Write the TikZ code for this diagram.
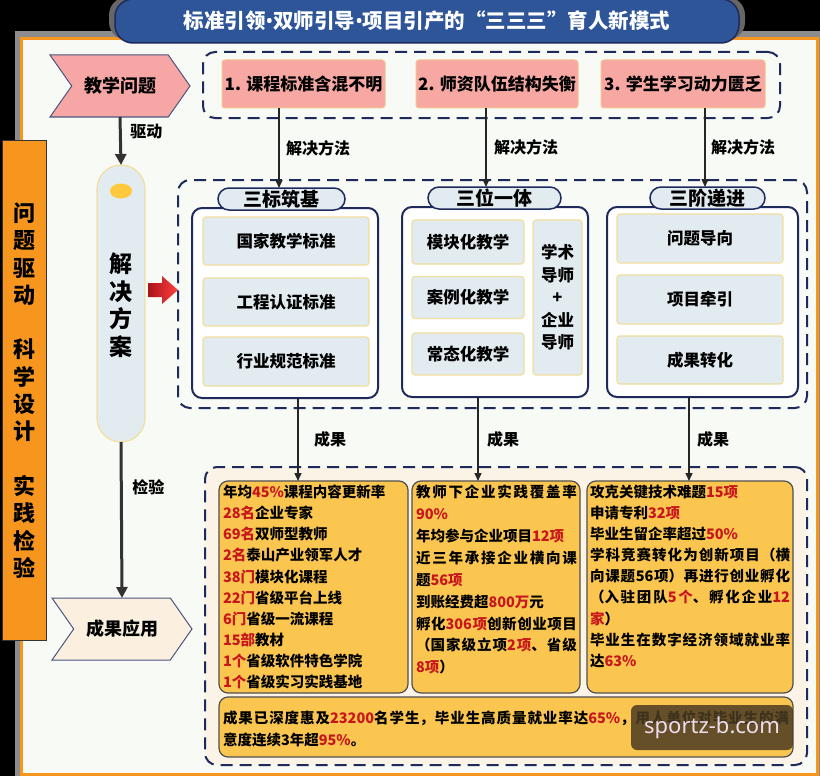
\documentclass[tikz,border=0pt]{standalone}
\usepackage{fontspec}
\setmainfont{Noto Sans CJK SC}
\newfontfamily\wmfont{Noto Sans}
\usetikzlibrary{shapes.symbols,shapes.geometric,arrows.meta,calc}
\XeTeXlinebreaklocale "zh"
\XeTeXlinebreakskip=0pt plus 3pt
\setlength{\parindent}{0pt}
\definecolor{navy}{HTML}{1F2A5C}
\definecolor{framebg}{HTML}{F8FAF6}
\definecolor{frameor}{HTML}{F7961E}
\definecolor{titleblue}{HTML}{2E5597}
\definecolor{probpink}{HTML}{F7A8A2}
\definecolor{probedge}{HTML}{F2C48C}
\definecolor{itembg}{HTML}{E2ECF0}
\definecolor{itemedge}{HTML}{F2DE9E}
\definecolor{resfill}{HTML}{FBC650}
\definecolor{resedge}{HTML}{505050}
\definecolor{numred}{HTML}{C8161D}
\definecolor{arrgray}{HTML}{333333}
\definecolor{creambg}{HTML}{FBF3E6}
\definecolor{chevcream}{HTML}{FBF0E0}
\definecolor{chevpink}{HTML}{F7A6A6}
\definecolor{dotyellow}{HTML}{FFC83D}
\definecolor{wmbrown}{HTML}{4A3B22}
\definecolor{wmtext}{HTML}{F0DDEE}
\newcommand{\myfs}[2]{\fontsize{#1}{#2}\selectfont}
\newcommand{\rd}[1]{\textcolor{numred}{#1}}
\newcommand{\tbul}{{\wmfont\bfseries •}}
\begin{document}
\begin{tikzpicture}[x=1pt,y=-1pt,
  every node/.style={inner sep=0pt, outer sep=0pt},
  probbox/.style={draw=probedge, line width=1pt, fill=probpink, rounded corners=3pt, minimum height=48pt, font=\myfs{17}{20}\bfseries},
  dashbox/.style={draw=navy, line width=2pt, dash pattern=on 12pt off 7pt, rounded corners=12pt},
  grpbox/.style={draw=navy, line width=2pt, fill=white, rounded corners=10pt},
  pillbox/.style={draw=navy, line width=1.5pt, fill=itembg, rounded corners=11pt, minimum height=22pt, font=\myfs{19}{20}\bfseries},
  itembox/.style={draw=itemedge, line width=1.2pt, fill=itembg, rounded corners=3pt, font=\myfs{16.5}{20}\bfseries},
  resbox/.style={draw=resedge, line width=1.2pt, fill=resfill, rounded corners=9pt},
  restext/.style={anchor=north west, font=\myfs{14.5}{21.1}\bfseries},
  bigarr/.style={draw=arrgray, line width=3pt, -{Triangle[length=11pt,width=11pt]}},
  thinarr/.style={draw=black!85, line width=1.4pt, -{Triangle[length=8pt,width=7pt]}},
  lbl/.style={font=\myfs{16}{18}\bfseries, anchor=west},
  chev/.style={shape=signal, signal from=west, signal to=east, signal pointer angle=110, draw=navy!80, line width=1pt, minimum width=140pt, minimum height=62pt, font=\myfs{18}{20}\bfseries},
]
\useasboundingbox (0,0) rectangle (820,776);
\fill[black] (0,0) rectangle (820,776);
\fill[black!45] (15,31) rectangle (820,776);
\draw[frameor, line width=3pt, fill=framebg] (21.5,38.5) rectangle (817.5,774.5);

% title
\fill[black!60, rounded corners=18pt] (109,-3) rectangle (745,40);
\node[draw=navy, line width=1.5pt, fill=titleblue, rounded corners=18pt, minimum width=624pt, minimum height=44pt, text=white, font=\myfs{20.5}{22}\bfseries] (title) at (427,21) {标准引领\tbul 双师引导\tbul 项目引产的“三三三”育人新模式};

% left strip
\node[draw=black!80, line width=1pt, fill=frameor, minimum width=44pt, minimum height=500pt] (strip) at (24,390) {};
\node[font=\myfs{22}{27.3}\bfseries, align=center] (striptext) at (24,390.5) {问\\题\\驱\\动\\[27.3pt]科\\学\\设\\计\\[27.3pt]实\\践\\检\\验};

% left column
\node[chev, fill=chevpink] (prob) at (120,86) {教学问题};
\node[draw=itemedge, line width=1.2pt, fill=itembg, rounded corners=24pt, minimum width=48pt, minimum height=277pt] (plan) at (121,303.5) {};
\node[ellipse, fill=dotyellow, minimum width=22pt, minimum height=15pt] (dot) at (121,191) {};
\node[font=\myfs{23}{27.5}\bfseries, align=center] (plantext) at (121,305) {解\\决\\方\\案};
\node[chev, fill=chevcream] (apply) at (122,629) {成果应用};
\draw[bigarr] (prob.south) -- (plan.north) node[pos=0.3, lbl, xshift=10pt] {驱动};
\draw[bigarr] (plan.south) -- (apply.north) node[pos=0.29, lbl, xshift=11pt] {检验};

% red arrow
\shade[left color=numred!85!black, right color=red!75] (148,283) -- (162,283) -- (162,276) -- (178,290) -- (162,304) -- (162,297) -- (148,297) -- cycle;

% top problems
\node[dashbox, minimum width=577pt, minimum height=66pt] (topgrp) at (491.5,85) {};
\node[probbox, minimum width=163pt] (p1) at (303.5,84) {1. 课程标准含混不明};
\node[probbox, minimum width=162pt] (p2) at (497,84) {2. 师资队伍结构失衡};
\node[probbox, minimum width=164pt] (p3) at (683,84) {3. 学生学习动力匮乏};

% middle groups
\node[dashbox, minimum width=629pt, minimum height=228pt] (midgrp) at (492.5,294) {};
\node[grpbox, minimum width=186pt, minimum height=190pt] (g1) at (285,303) {};
\node[grpbox, minimum width=186pt, minimum height=190pt] (g2) at (495,302) {};
\node[grpbox, minimum width=191pt, minimum height=190pt] (g3) at (702.5,302) {};
\node[pillbox, minimum width=127pt] (s1) at (281.5,199) {三标筑基};
\node[pillbox, minimum width=133pt] (s2) at (494.5,198) {三位一体};
\node[pillbox, minimum width=115pt] (s3) at (707.5,198) {三阶递进};

\node[itembox, minimum width=166pt, minimum height=48pt] (a1) at (286,241) {国家教学标准};
\node[itembox, minimum width=166pt, minimum height=48pt] (a2) at (286,302) {工程认证标准};
\node[itembox, minimum width=166pt, minimum height=49pt] (a3) at (286,361.5) {行业规范标准};

\node[itembox, minimum width=112pt, minimum height=44pt] (b1) at (468,242) {模块化教学};
\node[itembox, minimum width=112pt, minimum height=42pt] (b2) at (468,297.5) {案例化教学};
\node[itembox, minimum width=112pt, minimum height=42pt] (b3) at (468,354) {常态化教学};
\node[itembox, minimum width=49pt, minimum height=155pt, align=center, font=\myfs{16.5}{22.5}\bfseries] (b4) at (557.5,297.5) {学术\\导师\\+\\企业\\导师};

\node[itembox, minimum width=166pt, minimum height=49pt] (c1) at (700,238.5) {问题导向};
\node[itembox, minimum width=166pt, minimum height=49pt] (c2) at (700,299.5) {项目牵引};
\node[itembox, minimum width=166pt, minimum height=48pt] (c3) at (700,360) {成果转化};

% solution arrows
\coordinate (k1) at ([xshift=-2.5pt]s1.north);
\coordinate (k2) at ([xshift=-8.5pt]s2.north);
\coordinate (k3) at ([xshift=-2.5pt]s3.north);
\draw[thinarr] (p1.south -| k1) -- (k1) node[midway, lbl, xshift=7pt] {解决方法};
\draw[thinarr] (p2.south -| k2) -- (k2) node[midway, lbl, xshift=8pt] {解决方法};
\draw[thinarr] (p3.south -| k3) -- (k3) node[midway, lbl, xshift=6pt] {解决方法};

% results
\node[dashbox, fill=creambg, minimum width=602pt, minimum height=298pt] (botgrp) at (506,616) {};
\node[resbox, minimum width=189pt, minimum height=212pt] (ra) at (313.5,587) {};
\node[resbox, minimum width=168pt, minimum height=212pt] (rb) at (496,587) {};
\node[resbox, minimum width=206pt, minimum height=212pt] (rc) at (690,587) {};
\node[resbox, minimum width=574pt, minimum height=60pt] (rs) at (506,727) {};

\coordinate (e1) at ([xshift=13pt]g1.south);
\coordinate (e2) at ([xshift=-17pt]g2.south);
\coordinate (e3) at ([xshift=-13.5pt]g3.south);
\draw[thinarr] (e1) -- (e1 |- ra.north) node[midway, lbl, xshift=16pt] {成果};
\draw[thinarr] (e2) -- (e2 |- rb.north) node[midway, lbl, xshift=9pt] {成果};
\draw[thinarr] (e3) -- (e3 |- rc.north) node[midway, lbl, xshift=8pt] {成果};

\node[restext, align=left] (ta) at ($(ra.north west)+(4,4)$) {年均\rd{45\%}课程内容更新率\\
\rd{28名}企业专家\\
\rd{69名}双师型教师\\
\rd{2名}泰山产业领军人才\\
\rd{38门}模块化课程\\
\rd{22门}省级平台上线\\
\rd{6门}省级一流课程\\
\rd{15部}教材\\
\rd{1个}省级软件特色学院\\
\rd{1个}省级实习实践基地};

\node[restext, text width=161pt, align=justify, font=\myfs{14.5}{21.9}\bfseries] (tb) at ($(rb.north west)+(4,4)$) {教师下企业实践覆盖率\linebreak
\rd{90\%}\\
年均参与企业项目\rd{12项}\\
近三年承接企业横向课\linebreak
题\rd{56项}\\
到账经费超\rd{800万}元\\
孵化\rd{306项}创新创业项目\linebreak
（国家级立项\rd{2项}、省级\linebreak
\rd{8项}）};

\node[restext, text width=200pt, align=justify] (tc) at ($(rc.north west)+(3,4)$) {攻克关键技术难题\rd{15项}\\
申请专利\rd{32项}\\
毕业生留企率超过\rd{50\%}\\
学科竞赛转化为创新项目（横\linebreak
向课题56项）再进行创业孵化\linebreak
（入驻团队\rd{5个}、孵化企业\rd{12}\linebreak
\rd{家}）\\
毕业生在数字经济领域就业率\linebreak
达\rd{63\%}};

\node[anchor=west, text width=566pt, align=justify, font=\myfs{14.5}{22}\bfseries] (ts) at ($(rs.west)+(4,2)$) {成果已深度惠及\rd{23200}名学生，毕业生高质量就业率达\rd{65\%}，用人单位对毕业生的满\linebreak
意度连续3年超\rd{95\%}。};

% watermark
\node[fill=wmbrown, fill opacity=0.85, text opacity=1, rounded corners=6pt, minimum width=162pt, minimum height=45pt, text=wmtext, font=\wmfont\myfs{22}{24}] (wm) at (712,727.5) {sportz-b.com};
\end{tikzpicture}
\end{document}
